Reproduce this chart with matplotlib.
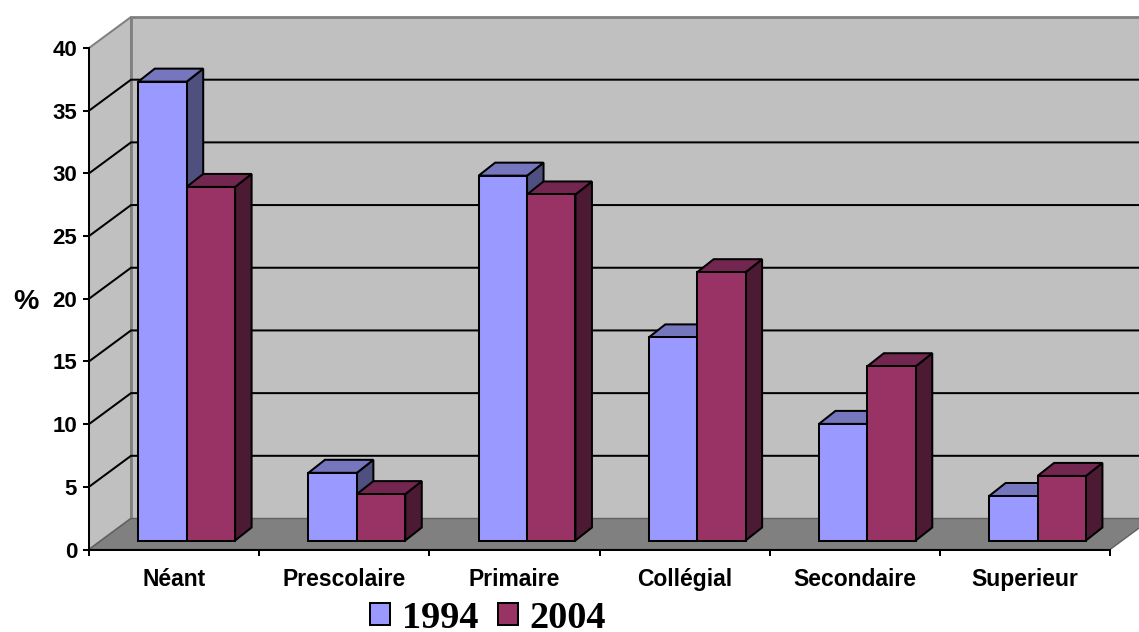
import matplotlib
matplotlib.use("Agg")
import matplotlib.pyplot as plt
from matplotlib.patches import Polygon, Patch

categories = ["Néant", "Prescolaire", "Primaire", "Collégial", "Secondaire", "Superieur"]
series_names = ["1994", "2004"]
values_1994 = [36.6, 5.4, 29.1, 16.2, 9.3, 3.55]
values_2004 = [28.2, 3.7, 27.6, 21.4, 13.9, 5.15]
y_ticks = [0, 5, 10, 15, 20, 25, 30, 35, 40]

W, H = 1139, 632
X0, X1, Y0, Y1 = 89, 1110, 549.5, 48
fig = plt.figure(figsize=(W / 100, H / 100), dpi=100, facecolor="white")
ax = fig.add_axes([X0 / W, 1 - Y0 / H, (X1 - X0) / W, (Y0 - Y1) / H], facecolor="none")
ax.set_xlim(0, 6)
ax.set_ylim(0, 40)

px = 6 / (X1 - X0)          # category units per pixel
py = 40 / (Y0 - Y1)         # value units per pixel
DX, DY = 42 * px, 31 * py   # wall depth
lw = 1.45

# walls and floor
ax.add_patch(Polygon([(0, 0), (DX, DY), (DX, 40 + DY), (0, 40)], fc="#C0C0C0", ec="#808080", lw=lw, clip_on=False, zorder=1))
ax.add_patch(Polygon([(DX, DY), (6 + DX, DY), (6 + DX, 40 + DY), (DX, 40 + DY)], fc="#C0C0C0", ec="#808080", lw=2, clip_on=False, zorder=1))
ax.add_patch(Polygon([(0, 0), (6, 0), (6 + DX, DY), (DX, DY)], fc="#808080", ec="#606060", lw=1, clip_on=False, zorder=1.5))

# gridlines
for t in y_ticks[1:-1]:
    ax.plot([0, DX, 6 + DX], [t, t + DY, t + DY], color="black", lw=lw, clip_on=False, zorder=2,
            solid_joinstyle="miter")

# bars
BW = 48.4 * px
BX = 49.3 * px
BASE = 9 * py
BDX, BDY = 16.5 * px, 13 * py
styles = [("#9999FF", "#7676BF", "#4F4F80"), ("#993366", "#732650", "#4D1A33")]


def box(x, v, st, z):
    front, top_c, side_c = st
    t = BASE + v
    kw = dict(ec="black", lw=lw, clip_on=False, zorder=z, joinstyle="miter")
    ax.add_patch(Polygon([(x + BW, BASE), (x + BW + BDX, BASE + BDY), (x + BW + BDX, t + BDY), (x + BW, t)], fc=side_c, **kw))
    ax.add_patch(Polygon([(x, t), (x + BDX, t + BDY), (x + BW + BDX, t + BDY), (x + BW, t)], fc=top_c, **kw))
    ax.bar(x, v, width=BW, bottom=BASE, align="edge", color=front, edgecolor="black", linewidth=lw,
           clip_on=False, zorder=z)


for i, (a, b) in enumerate(zip(values_1994, values_2004)):
    box(i + BX, a, styles[0], 3 + i * 0.1)
    box(i + BX + BW, b, styles[1], 3.05 + i * 0.1)

# axes
for s in ("top", "right"):
    ax.spines[s].set_visible(False)
for s in ("left", "bottom"):
    ax.spines[s].set_linewidth(lw)
    ax.spines[s].set_zorder(5)
ax.set_yticks(y_ticks)
ax.set_yticklabels([str(t) for t in y_ticks], fontfamily="Liberation Sans", fontweight="bold", fontsize=16)
ax.set_xticks(range(7))
ax.set_xticklabels([""] * 7)
ax.tick_params(axis="y", length=4, width=lw, pad=4.5)
ax.tick_params(axis="x", length=4.5, width=lw)
for i, c in enumerate(categories):
    ax.annotate(c, xy=(i + 0.5, 0), xytext=(0, -21.5), textcoords="offset points", ha="center", va="center",
                fontfamily="Liberation Sans", fontweight="bold", fontsize=16.5, annotation_clip=False)
ax.set_ylabel("%", rotation=0, fontfamily="Liberation Sans", fontweight="bold", fontsize=20.5)
ax.yaxis.set_label_coords(-63 / (X1 - X0), (Y0 - 302) / (Y0 - Y1), transform=ax.transAxes)
ax.yaxis.label.set_va("center")

handles = [Patch(fc=styles[i][0], ec="black", lw=lw) for i in range(2)]
ax.legend(handles, series_names, ncol=2, loc="center", bbox_to_anchor=(488 / W, 1 - 618 / H),
          bbox_transform=fig.transFigure, frameon=False, handlelength=0.53, handleheight=0.53,
          handletextpad=0.3, columnspacing=0.5, borderpad=0, labelspacing=0,
          prop=dict(family="Liberation Serif", weight="bold", size=27.5))

fig.savefig("out.png", dpi=100, facecolor="white")
